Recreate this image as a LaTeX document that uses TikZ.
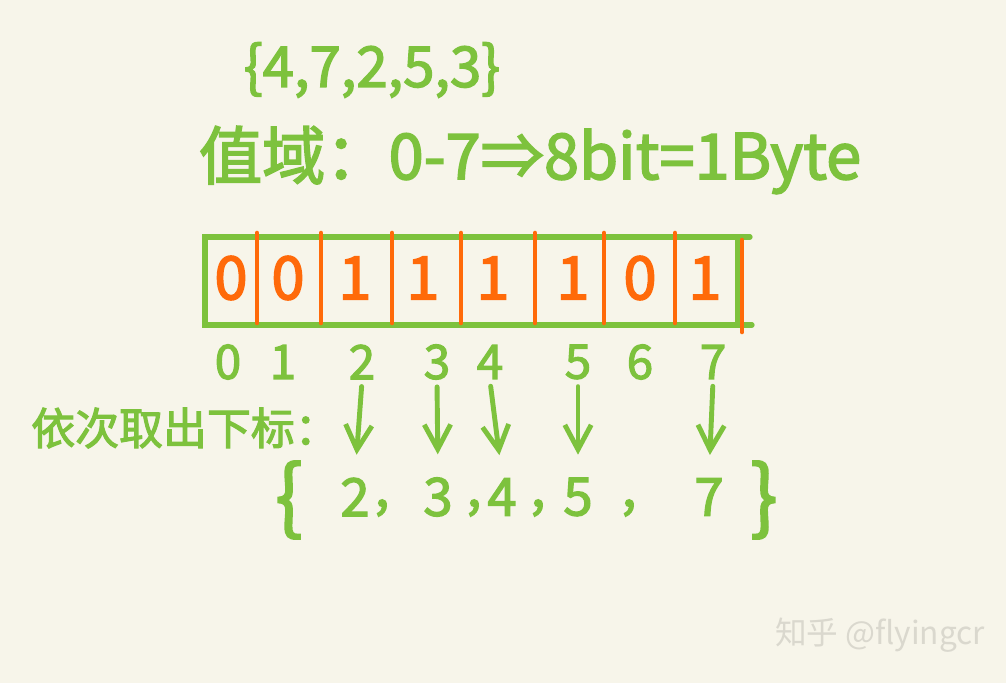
\documentclass[tikz,border=0pt]{standalone}
\usepackage{fontspec}
\setmainfont{Noto Sans CJK SC}[AutoFakeBold=2.5]
\usetikzlibrary{arrows.meta,positioning}
\definecolor{penbg}{HTML}{F7F5EA}
\definecolor{pengreen}{HTML}{7DC23D}
\definecolor{penorange}{HTML}{FF6A0A}
\definecolor{wmgray}{HTML}{DAD8CE}

\begin{document}
\begin{tikzpicture}[x=0.02cm, y=-0.02cm,
    hand/.style={text=pengreen, font=\bfseries\fontsize{28}{30}\selectfont, inner sep=1pt},
    title/.style={hand, font=\bfseries\fontsize{36}{40}\selectfont},
    bit/.style={text=penorange, font=\bfseries\fontsize{34}{36}\selectfont, inner sep=1pt},
    idx/.style={hand, font=\bfseries\fontsize{27}{29}\selectfont},
    res/.style={hand, font=\bfseries\fontsize{30}{32}\selectfont},
    sep/.style={res, inner sep=0pt},
    brace/.style={hand, font=\bfseries\fontsize{46}{48}\selectfont},
    boxline/.style={draw=pengreen, line width=3pt, line cap=round},
    divider/.style={draw=penorange, line width=2.6pt, line cap=round},
    pick/.style={draw=pengreen, line width=2.8pt, line cap=round, shorten <=3pt, shorten >=12pt,
        -{Straight Barb[length=14pt, width=15pt, line width=2.8pt]}}
]
    % paper
    \fill[penbg] (0,0) rectangle (1006,683);
    \useasboundingbox (0,0) rectangle (1006,683);

    % input set and value range
    \node[hand, font=\bfseries\fontsize{32}{34}\selectfont] (input) at (372,70) {\{4,7,2,5,3\}};
    \node[title] (range) at (530,160) {值域：0-7⇒8bit=1Byte};

    % byte box
    \draw[boxline] (750,237) -- (205,237) -- (205,325) -- (752,325);
    \draw[boxline] (738,237) -- (738,325);
    \foreach \x in {257,321,392,461,535,604,675}
        \draw[divider] (\x,233) -- (\x,323);
    \draw[divider] (742,240) -- (742,332);
    \foreach \b/\x [count=\k from 0] in {0/231,0/288,1/355,1/423,1/493,1/573,0/640,1/705}
        \node[bit] (b\k) at (\x,278) {\b};

    % bit indices
    \foreach \i/\x in {0/228,1/283,2/362,3/437,4/490,5/578,6/640,7/713}
        \node[idx] (i\i) at (\x,362) {\i};

    % picked indices
    \node[hand, font=\bfseries\fontsize{25}{27}\selectfont] (pickl) at (185,428) {依次取出下标：};
    \node[brace] (lb) at (289,500) {\{};
    \node[brace] (rb) at (764,500) {\}};
    \foreach \i/\x in {2/355,3/438,4/502,5/578,7/709}
        \node[res] (r\i) at (\x,497) {\i};
    \foreach \x in {382,474,538,629}
        \node[sep] at (\x,508) {,};
    \foreach \i in {2,3,4,5,7}
        \draw[pick] (i\i.south) -- (r\i.north);

    % watermark
    \node[text=wmgray, font=\fontsize{18}{20}\selectfont] (wm) at (880,635) {知乎 @flyingcr};
\end{tikzpicture}
\end{document}
